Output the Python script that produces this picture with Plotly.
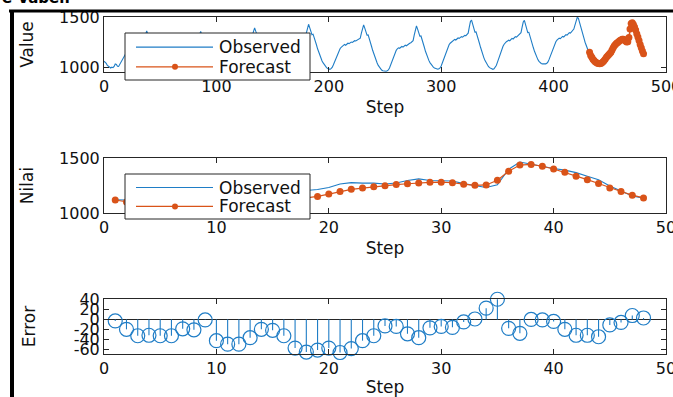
import plotly.graph_objects as go

W, H = 673, 397

# ---------------- data ----------------
observed_train = [
    1062, 1055, 1040, 1020, 1008, 1000, 995, 1003, 998, 1010, 1035, 1030, 1012, 1010, 1030, 1055,
    1080, 1100, 1120, 1140, 1155, 1170, 1180, 1185, 1182, 1190, 1195, 1200, 1198, 1205, 1215, 1210,
    1220, 1225, 1230, 1245, 1290, 1340, 1362, 1330, 1290, 1270, 1275, 1250, 1220, 1190, 1160, 1130,
    1105, 1085, 1065, 1050, 1040, 1030, 1025, 1020, 1015, 1018,
    1030, 1050, 1075, 1100, 1120, 1140, 1160, 1170, 1180, 1190, 1195, 1192, 1200, 1205, 1210, 1208,
    1215, 1222, 1218, 1225, 1230, 1235, 1240, 1238, 1245, 1255, 1290, 1335, 1358, 1325, 1290, 1275,
    1280, 1255, 1225, 1195, 1165, 1135, 1110, 1090, 1070, 1055, 1045, 1035, 1030, 1025, 1022, 1028,
    1040, 1060, 1085, 1110, 1130, 1150, 1170, 1185, 1195, 1200, 1205, 1210, 1208, 1215, 1222, 1228,
    1225, 1232, 1240, 1245, 1250, 1248, 1255, 1262, 1270, 1280, 1320, 1370, 1392, 1360, 1320, 1300,
    1305, 1280, 1250, 1215, 1180, 1150, 1120, 1095, 1075, 1060, 1048, 1038, 1030, 1025, 1020, 1022,
    1035, 1055, 1080, 1105, 1130, 1150, 1170, 1185, 1195, 1205, 1210, 1215, 1212, 1220, 1228, 1235,
    1232, 1240, 1248, 1255, 1260, 1258, 1265, 1272, 1280, 1290, 1340, 1400, 1428, 1395, 1350, 1325,
    1330, 1300, 1265, 1225, 1185, 1150, 1120, 1090, 1065, 1045, 1025, 1010, 998, 990, 985, 982, 988,
    1000, 1025, 1055, 1085, 1115, 1140, 1165, 1185, 1200, 1210, 1222, 1228, 1220, 1232, 1240, 1236,
    1245, 1252, 1248, 1258, 1265, 1262, 1270, 1275, 1282, 1290, 1340, 1395, 1422, 1390, 1345, 1320,
    1322, 1290, 1250, 1210, 1170, 1135, 1100, 1070, 1045, 1020, 1000, 985, 975, 968, 964, 966,
    962, 968, 975, 995, 1025, 1060, 1095, 1125, 1150, 1170, 1185, 1195, 1190, 1200, 1208, 1202,
    1212, 1220, 1215, 1225, 1232, 1240, 1245, 1252, 1265, 1320, 1385, 1412, 1380, 1335, 1310, 1312,
    1280, 1240, 1200, 1160, 1125, 1095, 1070, 1048, 1030, 1015, 1003, 995, 988, 984, 982, 986,
    995, 1015, 1045, 1080, 1115, 1150, 1180, 1205, 1225, 1240, 1250, 1262, 1270, 1278, 1272, 1285,
    1292, 1288, 1298, 1305, 1300, 1310, 1318, 1315, 1325, 1340, 1400, 1455, 1470, 1430, 1380, 1350,
    1352, 1320, 1280, 1240, 1200, 1160, 1125, 1095, 1068, 1045, 1025, 1010, 998, 990, 985, 982, 986,
    998, 1020, 1050, 1085, 1120, 1155, 1185, 1210, 1230, 1245, 1255, 1262, 1270, 1265, 1278, 1288,
    1282, 1295, 1305, 1300, 1312, 1320, 1328, 1345, 1400, 1450, 1466, 1425, 1375, 1345, 1348, 1315,
    1275, 1235, 1195, 1160, 1128, 1100, 1078, 1060, 1048, 1040, 1036, 1034, 1033, 1036, 1042,
    1055, 1080, 1110, 1145, 1180, 1210, 1235, 1255, 1270, 1282, 1290, 1285, 1298, 1308, 1302, 1315,
    1325, 1320, 1335, 1345, 1340, 1352, 1365, 1380, 1420, 1470, 1495, 1488, 1445, 1390, 1360, 1330,
    1290, 1250, 1215, 1185, 1160, 1150,
]
train_steps = list(range(len(observed_train)))

forecast = [
    1118, 1100, 1082, 1068, 1057, 1048, 1042, 1038, 1037, 1040, 1047, 1057, 1070, 1085, 1100, 1114,
    1126, 1138, 1151, 1172, 1195, 1215, 1227, 1239, 1248, 1258, 1266, 1273, 1279, 1280, 1275, 1262,
    1252, 1255, 1297, 1380, 1436, 1442, 1425, 1400, 1370, 1335, 1303, 1268, 1228, 1195, 1162, 1137,
]
observed_test = [
    1121, 1120, 1115, 1100, 1090, 1081, 1061, 1059, 1038, 1083, 1097, 1107, 1107, 1105, 1122, 1147,
    1184, 1204, 1214, 1232, 1264, 1276, 1272, 1272, 1263, 1272, 1295, 1310, 1296, 1294, 1291, 1267,
    1251, 1232, 1256, 1398, 1464, 1443, 1426, 1404, 1390, 1367, 1335, 1303, 1245, 1200, 1155, 1135,
]
errors = [
    -3, -20, -33, -32, -33, -33, -19, -21, -1, -43, -50, -50, -37, -20, -22, -33,
    -58, -66, -62, -58, -67, -59, -43, -33, -13, -14, -29, -37, -17, -14, -16, -5,
    1, 23, 41, -18, -28, 0, -1, -4, -20, -32, -32, -35, -11, -6, 8, 3,
]
test_steps = list(range(1, len(forecast) + 1))

top_xticks = [0, 100, 200, 300, 400, 500]
low_xticks = [0, 10, 20, 30, 40, 50]
value_ticks = [1000, 1500]
error_ticks = [-60, -40, -20, 0, 20, 40]
error_ticktext = ["-60", "-40", "-20", "0", "20", "40"]

BLUE = "#1f7dc6"
ORANGE = "#D95319"
AX = "#262626"
FONT = "DejaVu Sans"

# forecast in the top plot starts from the last observed value
top_fc_x = [train_steps[-1] + i for i in range(len(forecast) + 1)]
top_fc_y = [observed_train[-1]] + forecast


def px(x):
    return x / W


def py(y):
    return 1 - y / H


fig = go.Figure()

# --- top
fig.add_trace(go.Scatter(x=train_steps, y=observed_train, mode="lines",
                         line=dict(color=BLUE, width=1.1), xaxis="x", yaxis="y", showlegend=False))
fig.add_trace(go.Scatter(x=top_fc_x, y=top_fc_y, mode="lines+markers", cliponaxis=False,
                         line=dict(color=ORANGE, width=1.5), marker=dict(color=ORANGE, size=7),
                         xaxis="x", yaxis="y", showlegend=False))
# --- middle
fig.add_trace(go.Scatter(x=test_steps, y=observed_test, mode="lines",
                         line=dict(color=BLUE, width=1.1), xaxis="x2", yaxis="y2", showlegend=False))
fig.add_trace(go.Scatter(x=test_steps, y=forecast, mode="lines+markers", cliponaxis=False,
                         line=dict(color=ORANGE, width=1.2), marker=dict(color=ORANGE, size=7),
                         xaxis="x2", yaxis="y2", showlegend=False))
# --- bottom stems
sx, sy = [], []
for s, e in zip(test_steps, errors):
    sx += [s, s, None]
    sy += [0, e, None]
fig.add_trace(go.Scatter(x=sx, y=sy, mode="lines", line=dict(color=BLUE, width=1.1),
                         xaxis="x3", yaxis="y3", showlegend=False, hoverinfo="skip"))
fig.add_trace(go.Scatter(x=test_steps, y=errors, mode="markers", cliponaxis=False,
                         marker=dict(symbol="circle-open", color=BLUE, size=14, line=dict(width=1.2)),
                         xaxis="x3", yaxis="y3", showlegend=False))

axis_common = dict(showline=True, linecolor=AX, linewidth=1, mirror="ticks", ticks="inside",
                   ticklen=5, tickwidth=1, tickcolor=AX, showgrid=False, zeroline=False,
                   automargin=False,
                   tickfont=dict(family=FONT, size=16, color="#111"))
title_font = dict(family=FONT, size=17, color="#111")

xd = [px(104), px(666)]
doms = [(17, 72), (158, 213), (299, 354)]

layout = dict(
    width=W, height=H, autosize=False,
    margin=dict(l=0, r=0, t=0, b=0, autoexpand=False),
    paper_bgcolor="white", plot_bgcolor="white",
    showlegend=False, hovermode=False,
)
for i, (t, b) in enumerate(doms):
    sfx = "" if i == 0 else str(i + 1)
    xa = dict(axis_common, domain=xd, anchor="y" + sfx, ticklabeloverflow="allow",
              title=dict(text="Step", font=title_font, standoff=5))
    ya = dict(axis_common, domain=[py(b), py(t)], anchor="x" + sfx)
    if i == 0:
        xa.update(range=[0, 500], tickvals=top_xticks)
        ya.update(range=[955, 1500], tickvals=value_ticks,
                  title=dict(text="Value", font=title_font, standoff=21))
    elif i == 1:
        xa.update(range=[0, 50], tickvals=low_xticks)
        ya.update(range=[1000, 1500], tickvals=value_ticks,
                  title=dict(text="Nilai", font=title_font, standoff=21))
    else:
        xa.update(range=[0, 50], tickvals=low_xticks)
        ya.update(range=[-70, 41.5], tickvals=error_ticks, ticktext=error_ticktext, zeroline=True,
                  zerolinecolor=AX, zerolinewidth=1,
                  title=dict(text="Error", font=title_font, standoff=33))
    layout["xaxis" + sfx] = xa
    layout["yaxis" + sfx] = ya

shapes = []
annotations = []
# legends (top and middle)
for (lt, lb) in [(33, 80), (174, 219)]:
    shapes.append(dict(type="rect", xref="paper", yref="paper", x0=px(125), x1=px(310),
                       y0=py(lb), y1=py(lt), line=dict(color=AX, width=1), fillcolor="white",
                       layer="above"))
    r1 = lt + (lb - lt) * 0.30
    r2 = lt + (lb - lt) * 0.72
    shapes.append(dict(type="line", xref="paper", yref="paper", x0=px(136), x1=px(213),
                       y0=py(r1), y1=py(r1), line=dict(color=BLUE, width=1.2), layer="above"))
    shapes.append(dict(type="line", xref="paper", yref="paper", x0=px(136), x1=px(213),
                       y0=py(r2), y1=py(r2), line=dict(color=ORANGE, width=1.2), layer="above"))
    shapes.append(dict(type="circle", xref="paper", yref="paper", x0=px(172), x1=px(178),
                       y0=py(r2 + 3), y1=py(r2 - 3), line=dict(color=ORANGE, width=0),
                       fillcolor=ORANGE, layer="above"))
    for txt, ry in [("Observed", r1), ("Forecast", r2)]:
        annotations.append(dict(text=txt, xref="paper", yref="paper", x=px(217), y=py(ry),
                                xanchor="left", yanchor="middle", showarrow=False,
                                font=dict(family=FONT, size=17, color="#111")))

# figure frame (thick black border at left and top)
shapes.append(dict(type="line", xref="paper", yref="paper", x0=px(9), x1=1.01,
                   y0=py(11), y1=py(11), line=dict(color="black", width=3), layer="above"))
shapes.append(dict(type="line", xref="paper", yref="paper", x0=px(12), x1=px(12),
                   y0=py(10), y1=-0.02, line=dict(color="black", width=4), layer="above"))
# cut-off caption at the very top
annotations.append(dict(text="<b>e Vabel:</b>", xref="paper", yref="paper", x=px(0), y=py(9),
                        xanchor="left", yanchor="bottom", showarrow=False,
                        font=dict(family=FONT, size=15, color="black")))

layout["shapes"] = shapes
layout["annotations"] = annotations
fig.update_layout(**layout)
fig.write_html("out.html", config={"displayModeBar": False, "staticPlot": True},
               post_script="document.body.style.margin='0';document.body.style.overflow='hidden';")
